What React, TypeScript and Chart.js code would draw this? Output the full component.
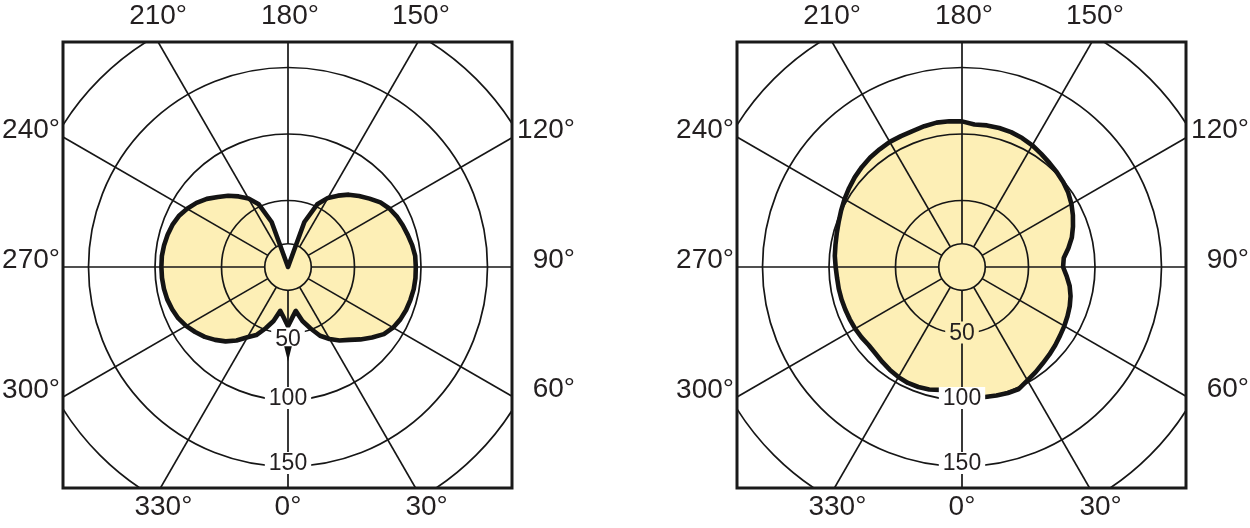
import { useEffect, useRef } from "react";
import { Chart, registerables } from "chart.js";

Chart.register(...registerables);

// ---- data -------------------------------------------------------------
const ANGLES = [
  0, 5, 10, 15, 20, 25, 30, 35, 40, 45, 50, 55,
  60, 65, 70, 75, 80, 85, 90, 95, 100, 105, 110, 115,
  120, 125, 130, 135, 140, 145, 150, 155, 160, 165, 170, 175,
  180, 185, 190, 195, 200, 205, 210, 215, 220, 225, 230, 235,
  240, 245, 250, 255, 260, 265, 270, 275, 280, 285, 290, 295,
  300, 305, 310, 315, 320, 325, 330, 335, 340, 345, 350, 355,
];

const LEFT_VALUES = [
  44.5, 38, 33.5, 42, 49, 57, 62.5, 67.5, 71.5, 77, 82.5, 88,
  91.2, 93.2, 94.5, 95.3, 96, 96.2, 96.1, 96, 94.8, 93.2, 91.8, 90.2,
  88, 84.8, 80, 75.5, 71, 65.5, 60, 52, 36, 0, 0, 0,
  0, 0, 0, 0, 36, 52, 59.5, 64.8, 70, 74.5, 79.7, 84,
  87.6, 90.6, 92.5, 93.7, 94.6, 95.2, 95.2, 95.1, 94.7, 94, 92.7, 91.1,
  88.5, 85.2, 81.7, 77.5, 73, 67.5, 61, 56.5, 49, 42, 33.5, 38,
];

const RIGHT_VALUES = [
  94.5, 97, 99.2, 100, 100.8, 101.2, 98.5, 96.5, 94.5, 93, 91.5, 90,
  88.8, 87.5, 86.2, 84.5, 82.2, 79, 76, 76.8, 81.2, 85.5, 88.8, 92,
  95, 97.5, 99.3, 100.8, 102.2, 103.8, 105.7, 107, 107.9, 108.2, 108.1, 107.5,
  109.5, 110, 110.2, 109.6, 108.8, 108.6, 108.6, 108, 107.4, 106.4, 105.2, 103.6,
  102, 100.3, 98.7, 97.5, 96.6, 96, 95, 94.3, 94.1, 93.8, 93.4, 93.1,
  92.8, 92.2, 91.5, 92, 93.2, 94.5, 95.6, 96.2, 96, 95.3, 93.8, 93.8,
];

const RING_TICKS = [50, 100, 150];
const DEGREE_TICKS = [0, 30, 60, 90, 120, 150, 180, 210, 240, 270, 300, 330];
const HUB_VALUE = 17.5;
const R_MAX = 200;
const R_STEP = 50;

// ---- styles / layout --------------------------------------------------
const CANVAS_W = 576;
const CANVAS_H = 532;
const BOX = { x: 63, y: 41, w: 449, h: 446 }; // canvas-local
const TEXT = "#231f20";
const GRID = "#161616";
const FILL = "#fdefb6";
const CURVE = "#141414";
const DEG_FONT = '28px "Liberation Sans", Arial, sans-serif';
const TICK_FONT = '23px "Liberation Sans", Arial, sans-serif';
const LABEL_NUDGE: Record<number, number> = { 30: 11, 150: 3, 180: 2, 330: 3 };
const TICK_SHIFT = [-1, -2, -3.5];

// radar goes clockwise from the start angle; the diagram's angles run
// counter-clockwise from the bottom, so walk the arrays backwards
const ORDER = ANGLES.map((_, i) => (ANGLES.length - i) % ANGLES.length);
const indexOfAngle = (deg: number) => ORDER.indexOf(ANGLES.indexOf(deg));

function decorPlugin(isLeft: boolean, values: number[]) {
  return {
    id: "polarDecor",
    beforeDraw(chart: any) {
      const ctx = chart.ctx;
      ctx.save();
      ctx.beginPath();
      ctx.rect(BOX.x, BOX.y, BOX.w, BOX.h);
      ctx.clip();
    },
    afterDatasetsDraw(chart: any) {
      const ctx = chart.ctx;
      const s = chart.scales.r;
      ctx.save();
      ctx.strokeStyle = GRID;
      ctx.lineWidth = 1.7;
      DEGREE_TICKS.forEach((d) => {
        const i = indexOfAngle(d);
        const a = s.getPointPositionForValue(i, HUB_VALUE);
        const b = s.getPointPositionForValue(i, 260);
        ctx.beginPath();
        ctx.moveTo(a.x, a.y);
        ctx.lineTo(b.x, b.y);
        ctx.stroke();
      });
      ctx.beginPath();
      ctx.arc(s.xCenter, s.yCenter, s.getDistanceFromCenterForValue(HUB_VALUE), 0, Math.PI * 2);
      ctx.stroke();
      ctx.restore();
    },
    afterDraw(chart: any) {
      const ctx = chart.ctx;
      const s = chart.scales.r;
      ctx.restore(); // end of box clip

      // ring value labels along the 0° ray
      const curveAtZero = values[ANGLES.indexOf(0)];
      ctx.save();
      ctx.font = TICK_FONT;
      ctx.textAlign = "center";
      ctx.textBaseline = "middle";
      RING_TICKS.forEach((v, k) => {
        const p = s.getPointPositionForValue(indexOfAngle(0), v);
        let y = p.y + TICK_SHIFT[k];
        if (isLeft && v === 50) y += 6;
        const w = ctx.measureText(String(v)).width;
        ctx.fillStyle = v < curveAtZero ? FILL : "#ffffff";
        ctx.fillRect(p.x - w / 2 - 4, y - 11, w + 8, 22);
        ctx.fillStyle = TEXT;
        ctx.fillText(String(v), p.x, y + 1);
      });
      if (isLeft) {
        const i0 = indexOfAngle(0);
        const t = s.getPointPositionForValue(i0, 59.5);
        const b = s.getPointPositionForValue(i0, 71);
        ctx.fillStyle = "#111";
        ctx.beginPath();
        ctx.moveTo(t.x - 3.8, t.y);
        ctx.lineTo(t.x + 3.8, t.y);
        ctx.lineTo(b.x, b.y);
        ctx.closePath();
        ctx.fill();
      }
      ctx.restore();

      // frame
      ctx.save();
      ctx.strokeStyle = "#1a1a1a";
      ctx.lineWidth = 3;
      ctx.strokeRect(BOX.x, BOX.y, BOX.w, BOX.h);
      ctx.restore();

      // degree labels at the frame
      ctx.save();
      ctx.font = DEG_FONT;
      ctx.fillStyle = TEXT;
      ctx.textBaseline = "middle";
      DEGREE_TICKS.forEach((d) => {
        const p = s.getPointPositionForValue(indexOfAngle(d), 100);
        const dx = p.x - s.xCenter;
        const dy = p.y - s.yCenter;
        let t = Infinity;
        let side = "";
        const eps = 1e-6;
        if (dx > eps) { const tt = (BOX.x + BOX.w - s.xCenter) / dx; if (tt < t) { t = tt; side = "right"; } }
        if (dx < -eps) { const tt = (BOX.x - s.xCenter) / dx; if (tt < t) { t = tt; side = "left"; } }
        if (dy > eps) { const tt = (BOX.y + BOX.h - s.yCenter) / dy; if (tt < t) { t = tt; side = "bottom"; } }
        if (dy < -eps) { const tt = (BOX.y - s.yCenter) / dy; if (tt < t) { t = tt; side = "top"; } }
        const ix = s.xCenter + dx * t;
        const iy = s.yCenter + dy * t;
        const label = d + "°";
        const nudge = LABEL_NUDGE[d] || 0;
        if (side === "top") {
          ctx.textAlign = "center";
          ctx.fillText(label, ix + nudge, 15);
        } else if (side === "bottom") {
          ctx.textAlign = "center";
          ctx.fillText(label, ix + nudge, 506);
        } else if (side === "left") {
          ctx.textAlign = "right";
          ctx.fillText(label, 60, iy - 7);
        } else {
          ctx.textAlign = "right";
          ctx.fillText(label, 575, iy - 7);
        }
      });
      ctx.restore();
    },
  };
}

function PolarPanel({ values, left, isLeft }: { values: number[]; left: number; isLeft: boolean }) {
  const ref = useRef<HTMLCanvasElement>(null);
  useEffect(() => {
    const canvas = ref.current;
    if (!canvas) return;
    const chart = new Chart(canvas, {
      type: "radar",
      data: {
        labels: ORDER.map((k) => ANGLES[k] + "°"),
        datasets: [
          {
            data: ORDER.map((k) => values[k]),
            fill: true,
            backgroundColor: FILL,
            borderColor: CURVE,
            borderWidth: 4.6,
            borderJoinStyle: "round",
            pointRadius: 0,
            pointHoverRadius: 0,
            tension: 0,
          } as any,
        ],
      },
      options: {
        responsive: false,
        animation: false,
        events: [],
        layout: { padding: 0 },
        plugins: { legend: { display: false }, tooltip: { enabled: false } },
        scales: {
          r: {
            min: 0,
            max: R_MAX,
            startAngle: 180,
            ticks: { display: false, stepSize: R_STEP },
            grid: { circular: true, color: GRID, lineWidth: 1.7, z: 1 },
            angleLines: { display: false },
            pointLabels: { display: false },
          } as any,
        },
      },
      plugins: [decorPlugin(isLeft, values)],
    });
    return () => chart.destroy();
  }, [values, isLeft]);
  return (
    <canvas
      ref={ref}
      width={CANVAS_W}
      height={CANVAS_H}
      style={{ position: "absolute", left, top: 1, width: CANVAS_W, height: CANVAS_H }}
    />
  );
}

export default function App() {
  return (
    <div
      style={{
        position: "absolute",
        left: 0,
        top: 0,
        width: 1250,
        height: 528,
        overflow: "hidden",
        background: "#ffffff",
      }}
    >
      <PolarPanel values={LEFT_VALUES} left={0} isLeft={true} />
      <PolarPanel values={RIGHT_VALUES} left={674} isLeft={false} />
    </div>
  );
}
